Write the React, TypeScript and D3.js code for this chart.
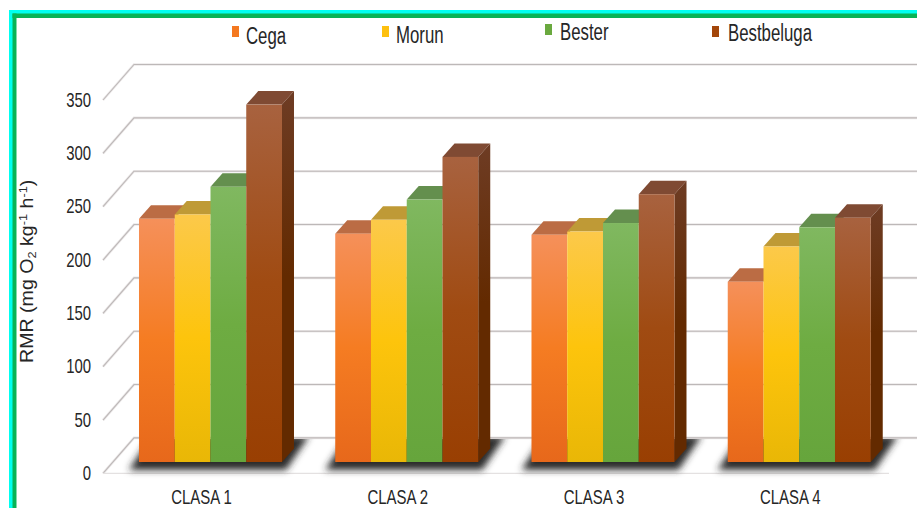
import React from "react";
import * as d3 from "d3";

const categories = ["CLASA 1", "CLASA 2", "CLASA 3", "CLASA 4"];
const seriesNames = ["Cega", "Morun", "Bester", "Bestbeluga"];
const cega = [228, 214, 213, 169];
const morun = [232, 227, 216, 202];
const bester = [258, 246, 224, 220];
const bestbeluga = [335, 286, 251, 229];
const yTicks = [0, 50, 100, 150, 200, 250, 300, 350];

const allSeries = [cega, morun, bester, bestbeluga];

const W = 917;
const H = 508;
const FONT = "'Liberation Sans', Arial, sans-serif";

// Gradient stops per series: top of the front face, middle, bottom, then side and roof faces.
const palette = [
  { hi: "#f5905a", mid: "#f57c22", lo: "#e7681b", sideHi: "#a8532a", sideLo: "#a84b10", top: "#bb6c44", key: "#f4781f" },
  { hi: "#fcc94a", mid: "#fdc40c", lo: "#e9b706", sideHi: "#a8892a", sideLo: "#a88206", top: "#bf9a36", key: "#fdc00f" },
  { hi: "#80b860", mid: "#6eac42", lo: "#66a53c", sideHi: "#4c7a30", sideLo: "#47742a", top: "#648f4e", key: "#6aa93f" },
  { hi: "#a8623f", mid: "#a04b12", lo: "#993f02", sideHi: "#6e3c24", sideLo: "#632a00", top: "#7f4a33", key: "#a3460a" },
];

const legendKeyX = [232, 382, 545, 712];
const legendKeyY = [26, 26, 24, 26];
const legendTextX = [246, 396, 560, 728];
const legendTextY = [44, 43, 40, 41];

// Oblique projection of the chart box.
const depth = { dx: 31, dy: -35.5 };
const barDepth = { dx: 12, dy: -13.5 };
const BAR_BASE = 462;

const wallY = d3.scaleLinear().domain([0, 350]).range([473.4, 100]);
const barHeight = d3.scaleLinear().domain([0, 350]).range([0, 373.4]);
const groupX = d3.scaleBand<string>().domain(categories).range([112.5, 897.5]).paddingInner(0.27).paddingOuter(0.135);
const barX = d3.scaleBand<string>().domain(seriesNames).range([0, 143]);

function Squeezed({ x, y, size, sx, anchor = "middle", children, fill = "#262626" }: any) {
  return (
    <text
      transform={`translate(${x},${y}) scale(${sx},1)`}
      textAnchor={anchor}
      fontFamily={FONT}
      fontSize={size}
      fill={fill}
    >
      {children}
    </text>
  );
}

export default function App() {
  const backRight = 917;
  return (
    <svg
      width={W}
      height={H}
      viewBox={`0 0 ${W} ${H}`}
      style={{ position: "absolute", left: 0, top: 0, display: "block", background: "#fff" }}
    >
      <defs>
        {palette.map((p, i) => (
          <React.Fragment key={i}>
            <linearGradient id={`front${i}`} x1="0" y1="0" x2="0" y2="1">
              <stop offset="0" stopColor={p.hi} />
              <stop offset="0.5" stopColor={p.mid} />
              <stop offset="1" stopColor={p.lo} />
            </linearGradient>
            <linearGradient id={`side${i}`} x1="0" y1="0" x2="0" y2="1">
              <stop offset="0" stopColor={p.sideHi} />
              <stop offset="0.5" stopColor={p.sideLo} />
              <stop offset="1" stopColor={p.sideLo} />
            </linearGradient>
          </React.Fragment>
        ))}
        <filter id="floorShadow" x="-20%" y="-100%" width="140%" height="300%">
          <feGaussianBlur stdDeviation="3.6" />
        </filter>
        <clipPath id="floorClip">
          <rect x={0} y={439} width={W} height={H - 439} />
        </clipPath>
      </defs>

      {/* Page frame: cyan outer edge, green inner band */}
      <rect x={9} y={10} width={W} height={4} fill="#00fff0" />
      <rect x={9} y={10} width={4} height={H} fill="#00fff0" />
      <rect x={12.5} y={13.5} width={W} height={4.5} fill="#08b356" />
      <rect x={12.5} y={13.5} width={4} height={H} fill="#08b356" />

      {/* Walls: soft halo beneath each gridline, then the line itself */}
      {yTicks.map((t) => {
        const y0 = wallY(t);
        const d = `M103,${y0}L${103 + depth.dx},${y0 + depth.dy}H${backRight}`;
        return (
          <g key={t} fill="none">
            <path d={d} stroke="#ece9e9" strokeWidth={2.6} />
            <path d={d} stroke="#bdb8b8" strokeWidth={1.1} />
          </g>
        );
      })}
      <path d={`M103,473.4H889`} stroke="#e4e1e1" strokeWidth={1.2} fill="none" />

      {/* Floor shadows and bars */}
      {categories.map((c, ci) => {
        const gx = groupX(c) ?? 0;
        const w = barX.bandwidth();
        return (
          <g key={c}>
            <g clipPath="url(#floorClip)">
              <path
                d={`M${gx - 10},${BAR_BASE + 8}L${gx + 12},${BAR_BASE - 26}H${gx + 170}L${gx + 147},${BAR_BASE + 8}Z`}
                fill="#2a2a2a"
                filter="url(#floorShadow)"
              />
            </g>
            {seriesNames.map((s, si) => {
              const x = gx + (barX(s) ?? 0);
              const h = barHeight(allSeries[si][ci]);
              const y = BAR_BASE - h;
              const { dx, dy } = barDepth;
              const isLast = si === seriesNames.length - 1;
              return (
                <g key={s}>
                  <path
                    d={`M${x},${y}L${x + dx},${y + dy}H${x + w + dx}L${x + w},${y}Z`}
                    fill={palette[si].top}
                  />
                  {isLast && (
                    <path
                      d={`M${x + w},${y}L${x + w + dx},${y + dy}V${BAR_BASE + dy}L${x + w},${BAR_BASE}Z`}
                      fill={`url(#side${si})`}
                    />
                  )}
                  <rect x={x} y={y} width={w} height={h} fill={`url(#front${si})`} />
                </g>
              );
            })}
          </g>
        );
      })}

      {/* Value axis labels */}
      {yTicks.map((t) => (
        <Squeezed key={t} x={91} y={wallY(t) + 6.5} size={21} sx={0.71} anchor="end">
          {t}
        </Squeezed>
      ))}

      <text
        transform="translate(33,363) rotate(-90) scale(1.06,0.97)"
        fontFamily={FONT}
        fontSize={18.5}
        fill="#262626"
      >
        RMR (mg O
        <tspan fontSize={12} dy={3.5}>2</tspan>
        <tspan dy={-3.5}> kg</tspan>
        <tspan fontSize={12} dy={-6}>-1</tspan>
        <tspan dy={6}> h</tspan>
        <tspan fontSize={12} dy={-6}>-1</tspan>
        <tspan dy={6}>)</tspan>
      </text>

      {/* Category labels */}
      {categories.map((c) => (
        <Squeezed key={c} x={(groupX(c) ?? 0) + 62.5} y={503.5} size={20.5} sx={0.73}>
          {c}
        </Squeezed>
      ))}

      {/* Legend */}
      {seriesNames.map((s, i) => (
        <g key={s}>
          <rect x={legendKeyX[i]} y={legendKeyY[i]} width={7} height={11} fill={palette[i].key} />
          <Squeezed x={legendTextX[i]} y={legendTextY[i]} size={23} sx={0.73} anchor="start">
            {s}
          </Squeezed>
        </g>
      ))}
    </svg>
  );
}
